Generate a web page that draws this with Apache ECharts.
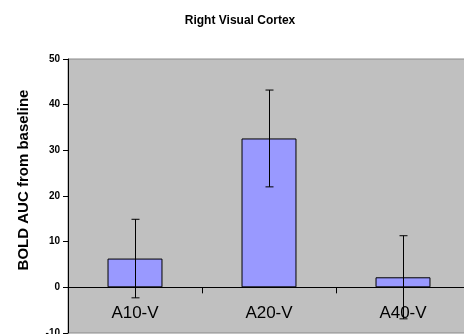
<!DOCTYPE html>
<html>
<head>
<meta charset="utf-8">
<script src="https://cdn.jsdelivr.net/npm/echarts@6/dist/echarts.min.js"></script>
<style>html,body{margin:0;padding:0;background:#fff}#c{width:464px;height:334px}</style>
</head>
<body>
<div id="c"></div>
<script>
var categories = ['A10-V', 'A20-V', 'A40-V'];
var means = [6.3, 32.6, 2.2];
var errors = [8.6, 10.6, 9.1];
var yTicks = { min: -10, max: 50, interval: 10 };
var titleText = 'Right Visual Cortex';
var yName = 'BOLD AUC from baseline';

var FONT = '"Liberation Sans", Arial, sans-serif';
var W = 464, H = 334;
var GRID = { left: 68, top: 59, right: -6, bottom: 1 };
var gridH = H - GRID.top - GRID.bottom;
// move the category axis up from the grid bottom to the value 0
var zeroOffset = -gridH * (0 - yTicks.min) / (yTicks.max - yTicks.min);

var chart = echarts.init(document.getElementById('c'));
var errData = categories.map(function (c, i) { return [i, means[i] - errors[i], means[i] + errors[i]]; });

chart.setOption({
  animation: false,
  backgroundColor: '#ffffff',
  title: {
    text: titleText,
    left: 240, top: 15, textAlign: 'center', padding: 0,
    textStyle: { fontFamily: FONT, fontWeight: 'bold', fontSize: 12, color: '#000' }
  },
  graphic: [{
    type: 'text', x: 24, y: 180, rotation: Math.PI / 2,
    style: { text: yName, align: 'center', verticalAlign: 'middle', font: 'bold 15px ' + FONT, fill: '#000' }
  }],
  grid: {
    left: GRID.left, top: GRID.top, right: GRID.right, bottom: GRID.bottom,
    containLabel: false, outerBoundsMode: 'none',
    show: true, backgroundColor: '#c0c0c0', borderColor: '#8a8a8a', borderWidth: 1
  },
  xAxis: {
    type: 'category', data: categories,
    offset: zeroOffset,
    axisLine: { onZero: false, lineStyle: { color: '#000', width: 1 } },
    axisTick: { show: true, alignWithLabel: false, length: 6, lineStyle: { color: '#000' } },
    axisLabel: { margin: 17, fontFamily: FONT, fontSize: 17, color: '#000' },
    splitLine: { show: false }
  },
  yAxis: {
    type: 'value', min: yTicks.min, max: yTicks.max, interval: yTicks.interval,
    axisLine: { show: true, onZero: false, lineStyle: { color: '#000', width: 1 } },
    axisTick: { show: true, length: 5, lineStyle: { color: '#000' } },
    axisLabel: { margin: 8, fontFamily: FONT, fontSize: 10, fontWeight: 'bold', color: '#000' },
    splitLine: { show: false }
  },
  series: [{
    type: 'bar', data: means, barWidth: '41%',
    itemStyle: { color: '#9999ff', borderColor: '#000', borderWidth: 1 }
  }, {
    type: 'custom', data: errData, z: 5,
    renderItem: function (params, api) {
      var x = api.value(0);
      var lo = api.coord([x, api.value(1)]);
      var hi = api.coord([x, api.value(2)]);
      var cx = Math.round(lo[0]) + 0.5;
      var hw = 4;
      var st = { stroke: '#000', lineWidth: 1 };
      return {
        type: 'group', children: [
          { type: 'line', shape: { x1: cx, y1: hi[1], x2: cx, y2: lo[1] }, style: st },
          { type: 'line', shape: { x1: cx - hw, y1: hi[1], x2: cx + hw, y2: hi[1] }, style: st },
          { type: 'line', shape: { x1: cx - hw, y1: lo[1], x2: cx + hw, y2: lo[1] }, style: st }
        ]
      };
    }
  }]
});
</script>
</body>
</html>
